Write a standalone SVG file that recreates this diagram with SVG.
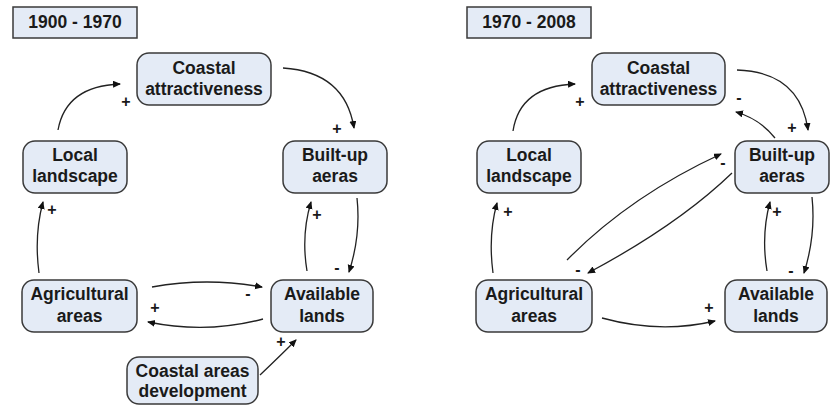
<svg xmlns="http://www.w3.org/2000/svg" width="832" height="405" viewBox="0 0 832 405">
<style>
.node rect{fill:#e4ebf6;stroke:#3a3a3a;stroke-width:1.5}
.title rect{fill:#e4ebf6;stroke:#3a3a3a;stroke-width:1.5}
text{font-family:"Liberation Sans",Arial,sans-serif;font-weight:bold;font-size:17.5px;fill:#1a1a1a;text-anchor:middle}
.lbl{font-size:16px}
.conn path{fill:none;stroke:#222;stroke-width:1.3;marker-end:url(#ah)}
</style>
<defs>
<marker id="ah" markerWidth="8" markerHeight="8" refX="7" refY="3.5" orient="auto" markerUnits="userSpaceOnUse">
<path d="M0,0 L8,3.5 L0,7 Z" fill="#111"/>
</marker>
</defs>
<rect width="832" height="405" fill="#fff"/>
<g id="title1" class="title"><rect x="13" y="7" width="124" height="31"/><text x="75" y="28">1900 - 1970</text></g>
<g id="title2" class="title"><rect x="467" y="7" width="124" height="31"/><text x="529" y="28">1970 - 2008</text></g>

<g id="L-coastal" class="node"><rect x="137" y="53" width="134" height="52" rx="12"/><text x="204" y="74">Coastal</text><text x="204" y="95">attractiveness</text></g>
<g id="L-local" class="node"><rect x="23" y="141" width="104" height="52" rx="12"/><text x="75" y="161">Local</text><text x="75" y="182">landscape</text></g>
<g id="L-built" class="node"><rect x="283" y="141" width="104" height="52" rx="12"/><text x="335" y="161">Built-up</text><text x="335" y="182">aeras</text></g>
<g id="L-agri" class="node"><rect x="22" y="280" width="115" height="52" rx="12"/><text x="79.5" y="300">Agricultural</text><text x="79.5" y="322">areas</text></g>
<g id="L-avail" class="node"><rect x="271" y="280" width="102" height="52" rx="12"/><text x="322" y="300">Available</text><text x="322" y="322">lands</text></g>
<g id="L-cad" class="node"><rect x="127" y="357" width="131" height="47" rx="12"/><text x="192.5" y="377">Coastal areas</text><text x="192.5" y="397">development</text></g>

<g id="R-coastal" class="node"><rect x="592" y="53" width="133" height="52" rx="12"/><text x="658.5" y="74">Coastal</text><text x="658.5" y="95">attractiveness</text></g>
<g id="R-local" class="node"><rect x="477" y="141" width="104" height="52" rx="12"/><text x="529" y="161">Local</text><text x="529" y="182">landscape</text></g>
<g id="R-built" class="node"><rect x="735" y="141" width="94" height="52" rx="12"/><text x="782" y="161">Built-up</text><text x="782" y="182">aeras</text></g>
<g id="R-agri" class="node"><rect x="476" y="280" width="116" height="52" rx="12"/><text x="534" y="300">Agricultural</text><text x="534" y="322">areas</text></g>
<g id="R-avail" class="node"><rect x="725" y="280" width="102" height="52" rx="12"/><text x="776" y="300">Available</text><text x="776" y="322">lands</text></g>

<g id="connectors" class="conn">
<path d="M58,130 Q66,86 120,84"/>
<path d="M283,68 Q345,72 354,128"/>
<path d="M357,198 Q361,235 349,272"/>
<path d="M307,271 Q301,235 311,202"/>
<path d="M39,273 Q34,235 43,202"/>
<path d="M152,287 Q207,277 262,287"/>
<path d="M263,319 Q207,334 148,322"/>
<path d="M260,375 Q280,356 296,340"/>

<path d="M513,131 Q520,86 575,84"/>
<path d="M737,70 Q800,72 808,130"/>
<path d="M775,138 Q760,119 736,112"/>
<path d="M812,197 Q816,235 804,273"/>
<path d="M767,271 Q761,235 770,202"/>
<path d="M493,273 Q488,235 497,203"/>
<path d="M567,260 Q630,196 721,154"/>
<path d="M732,173 Q678,225 588,273"/>
<path d="M602,318 Q660,334 715,321"/>
</g>

<g id="labels">
<text class="lbl" x="126" y="107">+</text>
<text class="lbl" x="337" y="134">+</text>
<text class="lbl" x="337" y="273">-</text>
<text class="lbl" x="317" y="220">+</text>
<text class="lbl" x="52" y="215">+</text>
<text class="lbl" x="248" y="299">-</text>
<text class="lbl" x="155" y="313">+</text>
<text class="lbl" x="281" y="347">+</text>

<text class="lbl" x="580" y="107">+</text>
<text class="lbl" x="792" y="133">+</text>
<text class="lbl" x="739" y="103">-</text>
<text class="lbl" x="791" y="276">-</text>
<text class="lbl" x="777" y="217">+</text>
<text class="lbl" x="508" y="217">+</text>
<text class="lbl" x="723" y="168">-</text>
<text class="lbl" x="578" y="275">-</text>
<text class="lbl" x="709" y="313">+</text>
</g>
</svg>
